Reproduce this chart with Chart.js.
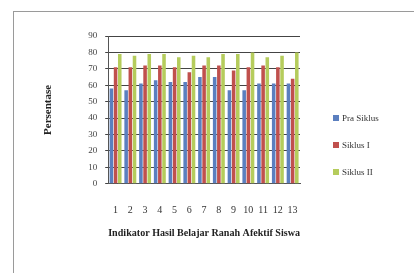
<!DOCTYPE html>
<html>
<head>
<meta charset="utf-8">
<script src="https://cdn.jsdelivr.net/npm/chart.js@4.4.0/dist/chart.umd.min.js"></script>
<style>
  html, body { margin: 0; padding: 0; background: #fff; }
  #wrap { position: relative; width: 414px; height: 273px; overflow: hidden; }
  #frame { position: absolute; left: 13px; top: 11px; width: 420px; height: 280px; border: 1px solid #9a9a9a; box-sizing: border-box; }
  canvas { position: absolute; left: 0; top: 0; }
  #legend { position: absolute; left: 333px; top: 112px; font: 9px 'Liberation Serif', 'DejaVu Serif', serif; color: #333; }
  #legend div { height: 27px; line-height: 12px; white-space: nowrap; }
  #legend span { display: inline-block; width: 6px; height: 6px; margin-right: 3px; vertical-align: 0; }
</style>
</head>
<body>
<div id="wrap">
  <div id="frame"></div>
  <canvas id="chart" width="414" height="273"></canvas>
  <div id="legend"></div>
</div>
<script>
// data
const indikator = ["1", "2", "3", "4", "5", "6", "7", "8", "9", "10", "11", "12", "13"];
const praSiklus = [58, 57, 61, 63, 62, 62, 65, 65, 57, 57, 61, 61, 61];
const siklus1 = [71, 71, 72, 72, 71, 68, 72, 72, 69, 71, 72, 71, 64];
const siklus2 = [79, 78, 79, 79, 77, 78, 77, 79, 79, 80, 77, 78, 80];

const font = "'Liberation Serif', 'DejaVu Serif', serif";

const ctx = document.getElementById("chart").getContext("2d");
const chart = new Chart(ctx, {
  type: "bar",
  data: {
    labels: indikator,
    datasets: [
      { label: "Pra Siklus", data: praSiklus, backgroundColor: "#5b7fbf" },
      { label: "Siklus I", data: siklus1, backgroundColor: "#c0504d" },
      { label: "Siklus II", data: siklus2, backgroundColor: "#b5cc5c" }
    ]
  },
  options: {
    responsive: false,
    animation: false,
    layout: { padding: { left: 38, right: 114, top: 36, bottom: 33 } },
    datasets: { bar: { categoryPercentage: 0.85, barPercentage: 0.85 } },
    plugins: {
      legend: { display: false },
      tooltip: { enabled: false }
    },
    scales: {
      x: {
        grid: { display: false, drawTicks: true },
        border: { color: "#555" },
        ticks: { font: { family: font, size: 10 }, color: "#333", padding: 13, maxRotation: 0, autoSkip: false },
        title: { display: true, text: "Indikator Hasil Belajar Ranah Afektif Siswa", font: { family: font, size: 11, weight: "bold" }, color: "#222", padding: { top: -3, bottom: 0 } }
      },
      y: {
        min: 0,
        max: 90,
        ticks: { stepSize: 10, font: { family: font, size: 9 }, color: "#444", padding: 8 },
        grid: { color: "#444", tickLength: 3 },
        border: { color: "#555" },
        title: { display: true, text: "Persentase", font: { family: font, size: 11, weight: "bold" }, color: "#222", padding: { top: 4, bottom: 25 } }
      }
    }
  }
});

// legend built from the chart's datasets
const legend = document.getElementById("legend");
chart.data.datasets.forEach((ds) => {
  const row = document.createElement("div");
  const box = document.createElement("span");
  box.style.background = ds.backgroundColor;
  row.appendChild(box);
  row.appendChild(document.createTextNode(ds.label));
  legend.appendChild(row);
});
</script>
</body>
</html>
